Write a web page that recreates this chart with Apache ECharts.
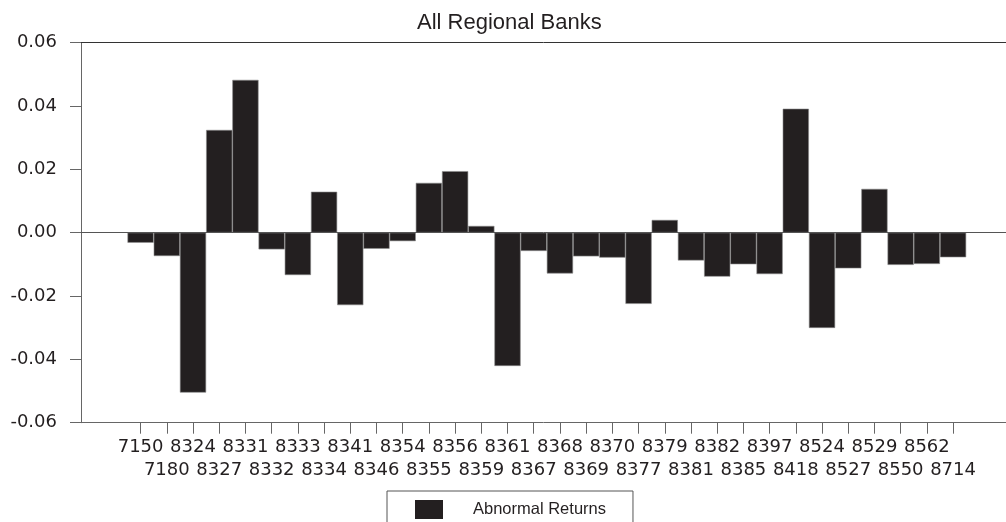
<!DOCTYPE html>
<html>
<head>
<meta charset="utf-8">
<title>All Regional Banks</title>
<script src="https://cdn.jsdelivr.net/npm/echarts@6/dist/echarts.min.js"></script>
<style>
  html, body { margin: 0; padding: 0; background: #ffffff; }
  #chart { width: 1006px; height: 522px; }
</style>
</head>
<body>
<div id="chart"></div>
<script>
// Bank codes along the horizontal axis
const categories = [
  '7150', '7180', '8324', '8327', '8331', '8332', '8333', '8334',
  '8341', '8346', '8354', '8355', '8356', '8359', '8361', '8367',
  '8368', '8369', '8370', '8377', '8379', '8381', '8382', '8385',
  '8397', '8418', '8524', '8527', '8529', '8550', '8562', '8714'
];

// Abnormal return per bank
const abnormalReturns = [
  -0.0032, -0.0074, -0.0505, 0.0324, 0.0482, -0.0053, -0.0134, 0.0129,
  -0.0229, -0.0051, -0.0027, 0.0157, 0.0194, 0.0021, -0.0421, -0.0058,
  -0.0129, -0.0075, -0.0079, -0.0225, 0.0040, -0.0088, -0.0139, -0.0100,
  -0.0131, 0.0391, -0.0301, -0.0113, 0.0138, -0.0102, -0.0099, -0.0078
];

// Vertical axis ticks
const yTicks = [-0.06, -0.04, -0.02, 0.00, 0.02, 0.04, 0.06];

const barData = abnormalReturns.map((v, i) => [i, v]);
const allPositions = categories.map((_, i) => i);
// Bank codes are printed on two staggered rows
const upperRow = allPositions.filter(i => i % 2 === 0);
const lowerRow = allPositions.filter(i => i % 2 === 1);

const ink = '#231f20';
const axisFont = 'DejaVu Sans';
const textFont = 'Liberation Sans';

// The category positions sit on a numeric axis so the frame can run
// past the first and last bar on both sides.
const xMin = -2.274;
const xMax = 33.02;

const labelStyle = {
  fontFamily: axisFont,
  fontSize: 18,
  lineHeight: 22.5,
  color: ink,
  verticalAlign: 'top',
  formatter: function (value) {
    return categories[value] || '';
  }
};

const chart = echarts.init(document.getElementById('chart'), null, { renderer: 'canvas' });

chart.setOption({
  animation: false,
  backgroundColor: '#ffffff',
  title: {
    text: 'All Regional Banks',
    left: 417,
    top: 12,
    padding: 0,
    textStyle: {
      fontFamily: textFont,
      fontSize: 22,
      fontWeight: 'normal',
      color: ink
    }
  },
  legend: {
    left: 387,
    top: 491,
    padding: [9, 27, 10, 28],
    borderColor: '#555555',
    borderWidth: 1,
    borderRadius: 0,
    itemWidth: 28,
    itemHeight: 19,
    icon: 'rect',
    itemStyle: { borderWidth: 0 },
    textStyle: {
      fontFamily: textFont,
      fontSize: 16.5,
      color: ink,
      padding: [0, 0, 0, 25]
    },
    data: ['Abnormal Returns']
  },
  grid: {
    left: 81,
    right: 0,
    top: 42.5,
    bottom: 99.3,
    containLabel: false
  },
  xAxis: [
    {
      // bottom frame line, one tick per bank, upper row of codes
      type: 'value',
      position: 'bottom',
      min: xMin,
      max: xMax,
      splitLine: { show: false },
      axisLine: { show: true, onZero: false, lineStyle: { color: '#666666', width: 1 } },
      axisTick: {
        show: true,
        inside: false,
        length: 11,
        customValues: allPositions,
        lineStyle: { color: '#666666', width: 1 }
      },
      axisLabel: Object.assign({
        show: true,
        customValues: upperRow,
        showMinLabel: true,
        showMaxLabel: true,
        margin: 13.5
      }, labelStyle)
    },
    {
      // top frame line
      type: 'value',
      position: 'top',
      min: xMin,
      max: xMax,
      splitLine: { show: false },
      axisLine: { show: true, onZero: false, lineStyle: { color: '#333333', width: 1 } },
      axisTick: { show: false },
      axisLabel: { show: false }
    },
    {
      // lower row of codes
      type: 'value',
      position: 'bottom',
      min: xMin,
      max: xMax,
      splitLine: { show: false },
      axisLine: { show: false, onZero: false },
      axisTick: { show: false },
      axisLabel: Object.assign({
        show: true,
        customValues: lowerRow,
        showMinLabel: true,
        showMaxLabel: true,
        margin: 36
      }, labelStyle)
    }
  ],
  yAxis: {
    type: 'value',
    min: yTicks[0],
    max: yTicks[yTicks.length - 1],
    interval: 0.02,
    splitLine: { show: false },
    axisLine: { show: true, onZero: false, lineStyle: { color: '#666666', width: 1 } },
    axisTick: { show: true, inside: false, length: 11, lineStyle: { color: '#666666', width: 1 } },
    axisLabel: {
      margin: 24,
      fontFamily: axisFont,
      fontSize: 18,
      color: ink,
      formatter: function (v) {
        const s = (Math.round(v * 100) / 100).toFixed(2);
        return s === '-0.00' ? '0.00' : s;
      }
    }
  },
  series: [
    {
      name: 'Abnormal Returns',
      type: 'bar',
      xAxisIndex: 0,
      yAxisIndex: 0,
      data: barData,
      barWidth: '100%',
      barCategoryGap: '0%',
      itemStyle: {
        color: ink,
        borderColor: '#8a8a8a',
        borderWidth: 0.6
      },
      markLine: {
        silent: true,
        symbol: ['none', 'none'],
        label: { show: false },
        lineStyle: { color: '#555555', type: 'solid', width: 1 },
        data: [{ yAxis: 0 }]
      }
    }
  ]
});
</script>
</body>
</html>
